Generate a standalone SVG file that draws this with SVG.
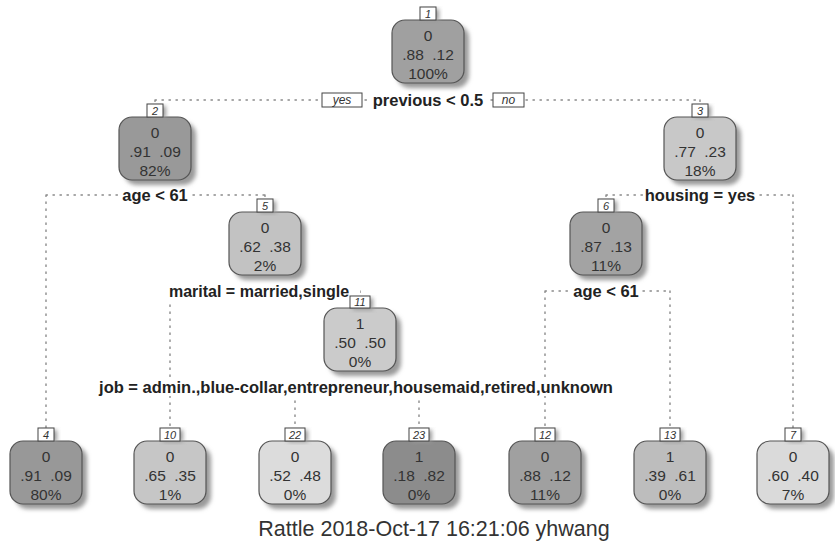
<svg xmlns="http://www.w3.org/2000/svg" width="835" height="548" viewBox="0 0 835 548">
<style>
.bx{stroke:#555;stroke-width:1.2}
.sh{fill:#9a9a9a;filter:url(#blur)}
.lb{fill:#fff;stroke:#444;stroke-width:1}
.lt{font-family:"Liberation Sans",Arial,sans-serif;font-size:11px;font-style:italic;fill:#333;text-anchor:middle}
.nt{font-family:"Liberation Sans",Arial,sans-serif;font-size:15.5px;fill:#333;text-anchor:middle}
.sp{font-family:"Liberation Sans",Arial,sans-serif;font-size:16.5px;font-weight:bold;fill:#222;text-anchor:middle}
.yn{font-family:"Liberation Sans",Arial,sans-serif;font-size:12px;font-style:italic;fill:#333;text-anchor:middle}
.bg{fill:#fff}
.cn{stroke:#8a8a8a;stroke-width:1.4;stroke-dasharray:1.4 5.6;stroke-linecap:round;fill:none}
.ti{font-family:"Liberation Sans",Arial,sans-serif;font-size:21.5px;fill:#333;text-anchor:middle}
</style>
<defs>
<filter id="blur" x="-20%" y="-20%" width="140%" height="140%"><feGaussianBlur stdDeviation="2"/></filter>
</defs>
<rect width="835" height="548" fill="#fff"/>
<g id="connectors">
<path class="cn" d="M155 100H700M155 100V104M700 100V104"/>
<path class="cn" d="M46 195H265M46 195V428M265 195V199"/>
<path class="cn" d="M606 195H793M606 195V199M793 195V428"/>
<path class="cn" d="M170 291H360M170 291V428M360 291V296"/>
<path class="cn" d="M545 291H670M545 291V428M670 291V428"/>
<path class="cn" d="M295 387H419M295 387V428M419 387V428"/>
</g>
<g id="splits">
<g id="split1">
<rect class="bg" x="368" y="91" width="120" height="18"/>
<text class="sp" x="428" y="106">previous &lt; 0.5</text>
<rect class="lb" x="322" y="93" width="40" height="14"/>
<text class="yn" x="342" y="104">yes</text>
<rect class="lb" x="493" y="93" width="31" height="14"/>
<text class="yn" x="508.5" y="104">no</text>
</g>
<g id="split2"><rect class="bg" x="119" y="186" width="72" height="18"/><text class="sp" x="155" y="201">age &lt; 61</text></g>
<g id="split3"><rect class="bg" x="643" y="186" width="114" height="18"/><text class="sp" x="700" y="201">housing = yes</text></g>
<g id="split5"><rect class="bg" x="168" y="282" width="192" height="18"/><text class="sp" x="259" y="297" style="font-size:16px">marital = married,single</text></g>
<g id="split6"><rect class="bg" x="570" y="282" width="72" height="18"/><text class="sp" x="606" y="297">age &lt; 61</text></g>
<g id="split11"><rect class="bg" x="95" y="378" width="522" height="18"/><text class="sp" x="356" y="393">job = admin.,blue-collar,entrepreneur,housemaid,retired,unknown</text></g>
</g>
<g id="node1">
<rect class="sh" x="397" y="25" width="72" height="63" rx="13"/>
<rect class="bx" x="392" y="20" width="72" height="63" rx="13" fill="#a0a0a0"/>
<rect class="sh" x="423" y="9" width="16" height="12"/>
<rect class="lb" x="420" y="7" width="16" height="13"/>
<text class="lt" x="428" y="17.5">1</text>
<text class="nt" x="428" y="41">0</text>
<text class="nt" x="413" y="60">.88</text><text class="nt" x="443" y="60">.12</text>
<text class="nt" x="428" y="79">100%</text>
</g>
<g id="node2">
<rect class="sh" x="124" y="122" width="72" height="63" rx="13"/>
<rect class="bx" x="119" y="117" width="72" height="63" rx="13" fill="#999"/>
<rect class="sh" x="150" y="106" width="16" height="12"/>
<rect class="lb" x="147" y="104" width="16" height="13"/>
<text class="lt" x="155" y="114.5">2</text>
<text class="nt" x="155" y="138">0</text>
<text class="nt" x="140" y="157">.91</text><text class="nt" x="170" y="157">.09</text>
<text class="nt" x="155" y="176">82%</text>
</g>
<g id="node3">
<rect class="sh" x="669" y="122" width="72" height="63" rx="13"/>
<rect class="bx" x="664" y="117" width="72" height="63" rx="13" fill="#c8c8c8"/>
<rect class="sh" x="695" y="106" width="16" height="12"/>
<rect class="lb" x="692" y="104" width="16" height="13"/>
<text class="lt" x="700" y="114.5">3</text>
<text class="nt" x="700" y="138">0</text>
<text class="nt" x="685" y="157">.77</text><text class="nt" x="715" y="157">.23</text>
<text class="nt" x="700" y="176">18%</text>
</g>
<g id="node5">
<rect class="sh" x="234" y="217" width="72" height="63" rx="13"/>
<rect class="bx" x="229" y="212" width="72" height="63" rx="13" fill="#c2c2c2"/>
<rect class="sh" x="260" y="201" width="16" height="12"/>
<rect class="lb" x="257" y="199" width="16" height="13"/>
<text class="lt" x="265" y="209.5">5</text>
<text class="nt" x="265" y="233">0</text>
<text class="nt" x="250" y="252">.62</text><text class="nt" x="280" y="252">.38</text>
<text class="nt" x="265" y="271">2%</text>
</g>
<g id="node6">
<rect class="sh" x="575" y="217" width="72" height="63" rx="13"/>
<rect class="bx" x="570" y="212" width="72" height="63" rx="13" fill="#a3a3a3"/>
<rect class="sh" x="601" y="201" width="16" height="12"/>
<rect class="lb" x="598" y="199" width="16" height="13"/>
<text class="lt" x="606" y="209.5">6</text>
<text class="nt" x="606" y="233">0</text>
<text class="nt" x="591" y="252">.87</text><text class="nt" x="621" y="252">.13</text>
<text class="nt" x="606" y="271">11%</text>
</g>
<g id="node11">
<rect class="sh" x="329" y="313" width="72" height="63" rx="13"/>
<rect class="bx" x="324" y="308" width="72" height="63" rx="13" fill="#cbcbcb"/>
<rect class="sh" x="353" y="298" width="20" height="12"/>
<rect class="lb" x="350" y="296" width="20" height="12"/>
<text class="lt" x="360" y="306">11</text>
<text class="nt" x="360" y="329">1</text>
<text class="nt" x="345" y="348">.50</text><text class="nt" x="375" y="348">.50</text>
<text class="nt" x="360" y="367">0%</text>
</g>
<g id="node4">
<rect class="sh" x="15" y="446" width="72" height="63" rx="13"/>
<rect class="bx" x="10" y="441" width="72" height="63" rx="13" fill="#989898"/>
<rect class="sh" x="41" y="430" width="16" height="12"/>
<rect class="lb" x="38" y="428" width="16" height="13"/>
<text class="lt" x="46" y="438.5">4</text>
<text class="nt" x="46" y="462">0</text>
<text class="nt" x="31" y="481">.91</text><text class="nt" x="61" y="481">.09</text>
<text class="nt" x="46" y="500">80%</text>
</g>
<g id="node10">
<rect class="sh" x="139" y="446" width="72" height="63" rx="13"/>
<rect class="bx" x="134" y="441" width="72" height="63" rx="13" fill="#c6c6c6"/>
<rect class="sh" x="163" y="430" width="20" height="12"/>
<rect class="lb" x="160" y="428" width="20" height="13"/>
<text class="lt" x="170" y="438.5">10</text>
<text class="nt" x="170" y="462">0</text>
<text class="nt" x="155" y="481">.65</text><text class="nt" x="185" y="481">.35</text>
<text class="nt" x="170" y="500">1%</text>
</g>
<g id="node22">
<rect class="sh" x="264" y="446" width="72" height="63" rx="13"/>
<rect class="bx" x="259" y="441" width="72" height="63" rx="13" fill="#dcdcdc"/>
<rect class="sh" x="288" y="430" width="20" height="12"/>
<rect class="lb" x="285" y="428" width="20" height="13"/>
<text class="lt" x="295" y="438.5">22</text>
<text class="nt" x="295" y="462">0</text>
<text class="nt" x="280" y="481">.52</text><text class="nt" x="310" y="481">.48</text>
<text class="nt" x="295" y="500">0%</text>
</g>
<g id="node23">
<rect class="sh" x="388" y="446" width="72" height="63" rx="13"/>
<rect class="bx" x="383" y="441" width="72" height="63" rx="13" fill="#8c8c8c"/>
<rect class="sh" x="412" y="430" width="20" height="12"/>
<rect class="lb" x="409" y="428" width="20" height="13"/>
<text class="lt" x="419" y="438.5">23</text>
<text class="nt" x="419" y="462">1</text>
<text class="nt" x="404" y="481">.18</text><text class="nt" x="434" y="481">.82</text>
<text class="nt" x="419" y="500">0%</text>
</g>
<g id="node12">
<rect class="sh" x="514" y="446" width="72" height="63" rx="13"/>
<rect class="bx" x="509" y="441" width="72" height="63" rx="13" fill="#a0a0a0"/>
<rect class="sh" x="538" y="430" width="20" height="12"/>
<rect class="lb" x="535" y="428" width="20" height="13"/>
<text class="lt" x="545" y="438.5">12</text>
<text class="nt" x="545" y="462">0</text>
<text class="nt" x="530" y="481">.88</text><text class="nt" x="560" y="481">.12</text>
<text class="nt" x="545" y="500">11%</text>
</g>
<g id="node13">
<rect class="sh" x="639" y="446" width="72" height="63" rx="13"/>
<rect class="bx" x="634" y="441" width="72" height="63" rx="13" fill="#bdbdbd"/>
<rect class="sh" x="663" y="430" width="20" height="12"/>
<rect class="lb" x="660" y="428" width="20" height="13"/>
<text class="lt" x="670" y="438.5">13</text>
<text class="nt" x="670" y="462">1</text>
<text class="nt" x="655" y="481">.39</text><text class="nt" x="685" y="481">.61</text>
<text class="nt" x="670" y="500">0%</text>
</g>
<g id="node7">
<rect class="sh" x="762" y="446" width="72" height="63" rx="13"/>
<rect class="bx" x="757" y="441" width="72" height="63" rx="13" fill="#dadada"/>
<rect class="sh" x="788" y="430" width="16" height="12"/>
<rect class="lb" x="785" y="428" width="16" height="13"/>
<text class="lt" x="793" y="438.5">7</text>
<text class="nt" x="793" y="462">0</text>
<text class="nt" x="778" y="481">.60</text><text class="nt" x="808" y="481">.40</text>
<text class="nt" x="793" y="500">7%</text>
</g>
<text class="ti" x="434" y="536">Rattle 2018-Oct-17 16:21:06 yhwang</text>
</svg>
